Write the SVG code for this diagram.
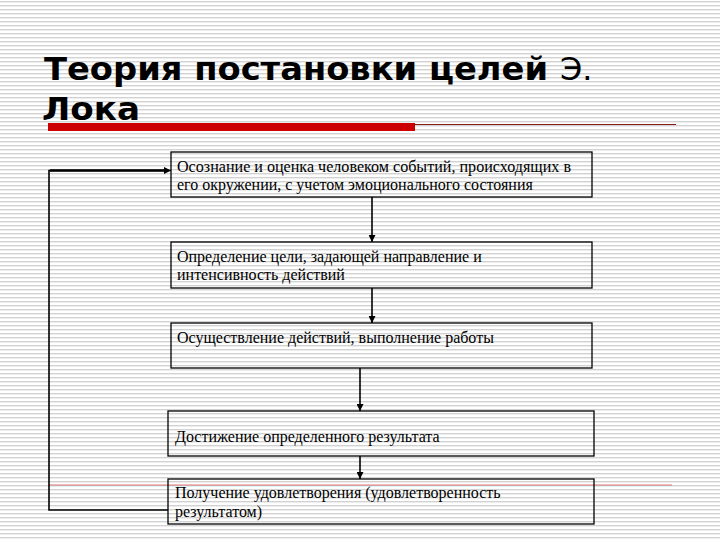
<svg xmlns="http://www.w3.org/2000/svg" width="720" height="540" viewBox="0 0 720 540">
<defs>
<pattern id="stripes" x="0" y="0" width="8" height="4" patternUnits="userSpaceOnUse">
<rect x="0" y="0" width="8" height="4" fill="#ffffff"/>
<rect x="0" y="1" width="8" height="1.4" fill="#d2d2d2"/>
</pattern>
<marker id="ah" viewBox="0 0 10 10" refX="10" refY="5" markerWidth="7" markerHeight="7" markerUnits="userSpaceOnUse" orient="auto">
<path d="M0,0 L10,5 L0,10 Z" fill="#000"/>
</marker>
</defs>
<style>
.box{fill:none;stroke:#000;stroke-width:1.3}
.t{font-family:"Liberation Serif","Times New Roman",serif;font-size:16px;fill:#000}
.title{font-family:"DejaVu Sans",Tahoma,sans-serif;font-size:32px;font-weight:bold;fill:#000}
.title2{font-family:"DejaVu Sans",Tahoma,sans-serif;font-size:32px;font-weight:normal;fill:#000}
.c{fill:none;stroke:#000;stroke-width:1.6}
</style>
<rect x="0" y="0" width="720" height="540" fill="url(#stripes)"/>
<g id="title">
<text x="44" y="80" class="title" textLength="504" lengthAdjust="spacingAndGlyphs">Теория постановки целей</text>
<text x="560" y="80" class="title2">Э.</text>
<text x="42" y="120" class="title" textLength="98" lengthAdjust="spacingAndGlyphs">Лока</text>
<rect x="48" y="123" width="367" height="8" fill="#cc0000"/>
<line x1="415" y1="124.5" x2="676" y2="124.5" stroke="#8b1a1a" stroke-width="1.2"/>
<line x1="49" y1="485" x2="672" y2="485" stroke="#e07070" stroke-width="1"/>
<line x1="49" y1="486.5" x2="672" y2="486.5" stroke="#d8f4f4" stroke-width="1"/>
</g>
<g id="connectors">
<line x1="372" y1="197" x2="372" y2="242" class="c" marker-end="url(#ah)"/>
<line x1="372" y1="288" x2="372" y2="323" class="c" marker-end="url(#ah)"/>
<line x1="360" y1="368" x2="360" y2="411" class="c" marker-end="url(#ah)"/>
<line x1="360" y1="456" x2="360" y2="479" class="c" marker-end="url(#ah)"/>
<polyline points="168,510 49,510 49,170.5 171,170.5" class="c" stroke-width="1.3" marker-end="url(#ah)"/>
<line x1="50" y1="170.5" x2="165" y2="170.5" stroke="#000" stroke-width="2.4"/>
</g>
<g id="node1">
<rect x="171" y="152" width="421" height="45" class="box"/>
<text x="177" y="172" class="t" textLength="394" lengthAdjust="spacingAndGlyphs">Осознание и оценка человеком событий, происходящих в</text>
<text x="177" y="190" class="t">его окружении, с учетом эмоционального состояния</text>
</g>
<g id="node2">
<rect x="171" y="242" width="421" height="46" class="box"/>
<text x="177" y="262" class="t">Определение цели, задающей направление и</text>
<text x="177" y="280" class="t">интенсивность действий</text>
</g>
<g id="node3">
<rect x="171" y="323" width="421" height="45" class="box"/>
<text x="177" y="343" class="t">Осуществление действий, выполнение работы</text>
</g>
<g id="node4">
<rect x="168" y="411" width="426" height="45" class="box"/>
<text x="175" y="442" class="t">Достижение определенного результата</text>
</g>
<g id="node5">
<rect x="168" y="479" width="426" height="45" class="box"/>
<text x="175" y="498" class="t">Получение удовлетворения (удовлетворенность</text>
<text x="175" y="517" class="t">результатом)</text>
</g>
</svg>
